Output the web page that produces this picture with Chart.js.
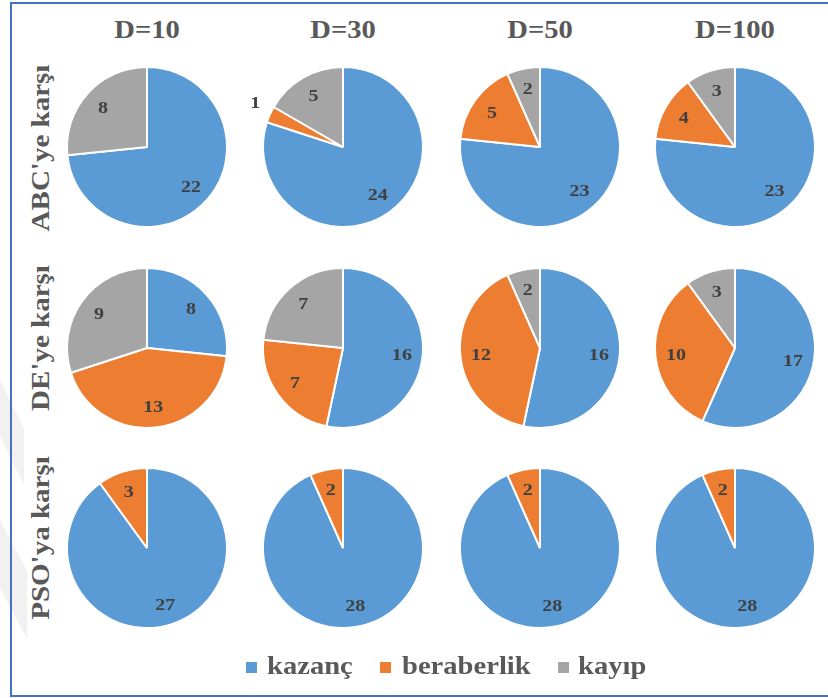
<!DOCTYPE html>
<html>
<head>
<meta charset="utf-8">
<script src="https://cdn.jsdelivr.net/npm/chart.js@4/dist/chart.umd.min.js"></script>
<style>
  html, body { margin: 0; padding: 0; background: #fff; }
  body {
    width: 828px; height: 698px; position: relative; overflow: hidden;
    font-family: "Liberation Serif", "Times New Roman", serif; font-weight: bold; color: #595959;
  }
  .band { position: absolute; left: 0; width: 60px; background: #f1f1f1; }
  .band.b1 { top: 380px; height: 140px; clip-path: polygon(0 0, 40% 35%, 40% 75%, 0 40%); }
  .band.b2 { top: 520px; height: 170px; clip-path: polygon(0 0, 45% 30%, 45% 70%, 0 40%); }
  .frame {
    position: absolute; left: 10px; top: 2px; width: 840px; height: 695px;
    border: 2px solid #4472C4; box-sizing: border-box;
  }
  .title {
    position: absolute; font-size: 26px; line-height: 26px; white-space: nowrap;
    transform: translateX(-50%) scaleX(1.1); transform-origin: center;
  }
  .rowlabel {
    position: absolute; font-size: 25px; line-height: 25px; white-space: nowrap;
    transform: translate(-50%, -50%) rotate(-90deg) scaleX(1.16); transform-origin: center;
  }
  .pie { position: absolute; width: 240px; height: 240px; }
  .legend-item { position: absolute; top: 653px; height: 26px; }
  .legend-item .box { position: absolute; top: 9px; width: 11px; height: 11px; }
  .legend-item .txt {
    position: absolute; font-size: 26px; line-height: 26px; white-space: nowrap;
    transform: scaleX(1.1); transform-origin: left center;
  }
</style>
</head>
<body>
<div class="band b1"></div>
<div class="band b2"></div>
<div class="frame"></div>
<div id="stage"></div>
<script>
// Problem dimensions (columns) and opponents (rows)
const dimensions = ['D=10', 'D=30', 'D=50', 'D=100'];
const opponents = ["ABC'ye karşı", "DE'ye karşı", "PSO'ya karşı"];
const outcomes = ['kazanç', 'beraberlik', 'kayıp'];

// Counts per opponent row, one value per dimension
const kazanc     = [[22, 24, 23, 23], [8, 16, 16, 17], [27, 28, 28, 28]];
const beraberlik = [[0, 1, 5, 4],     [13, 7, 12, 10], [3, 2, 2, 2]];
const kayip      = [[8, 5, 2, 3],     [9, 7, 2, 3],    [0, 0, 0, 0]];

const colors = ['#5B9BD5', '#ED7D31', '#A5A5A5'];

// Grid geometry
const colX = [147, 343, 540, 735];
const rowY = [147, 348, 548];
const rowLabelY = [148, 338, 538];
const pieRadius = 80;
const canvasSize = 240;

const stage = document.getElementById('stage');

// Column titles
dimensions.forEach((d, c) => {
  const el = document.createElement('div');
  el.className = 'title';
  el.textContent = d;
  el.style.left = colX[c] + 'px';
  el.style.top = '17px';
  stage.appendChild(el);
});

// Row titles (vertical)
opponents.forEach((o, r) => {
  const el = document.createElement('div');
  el.className = 'rowlabel';
  el.textContent = o;
  el.style.left = '40px';
  el.style.top = rowLabelY[r] + 'px';
  stage.appendChild(el);
});

// Value labels on each slice; thin slices get their label just outside the pie
const sliceLabels = {
  id: 'sliceLabels',
  afterDatasetsDraw(chart) {
    const ctx = chart.ctx;
    const meta = chart.getDatasetMeta(0);
    const data = chart.data.datasets[0].data;
    const total = data.reduce((a, b) => a + b, 0);
    meta.data.forEach((arc, i) => {
      const v = data[i];
      if (!v) return;
      const p = arc.getProps(['x', 'y', 'startAngle', 'endAngle', 'outerRadius'], true);
      const mid = (p.startAngle + p.endAngle) / 2;
      const outside = v / total < 0.05;
      const r = outside ? p.outerRadius + 16 : p.outerRadius * 0.74;
      const px = p.x + Math.cos(mid) * r;
      const py = p.y + Math.sin(mid) * r - (outside ? 5 : 0);
      ctx.save();
      ctx.translate(px, py);
      ctx.scale(1.18, 1);
      ctx.font = 'bold 17px "Liberation Serif", "Times New Roman", serif';
      ctx.fillStyle = '#404040';
      ctx.textAlign = 'center';
      ctx.textBaseline = 'middle';
      ctx.fillText(String(v), 0, 1);
      ctx.restore();
    });
  }
};

for (let r = 0; r < opponents.length; r++) {
  for (let c = 0; c < dimensions.length; c++) {
    const cv = document.createElement('canvas');
    cv.className = 'pie';
    cv.width = canvasSize;
    cv.height = canvasSize;
    cv.style.left = (colX[c] - canvasSize / 2) + 'px';
    cv.style.top = (rowY[r] - canvasSize / 2) + 'px';
    stage.appendChild(cv);
    new Chart(cv, {
      type: 'pie',
      data: {
        labels: outcomes,
        datasets: [{
          data: [kazanc[r][c], beraberlik[r][c], kayip[r][c]],
          backgroundColor: colors,
          borderColor: '#ffffff',
          borderWidth: 2
        }]
      },
      options: {
        responsive: false,
        animation: false,
        radius: pieRadius,
        layout: { padding: 0 },
        plugins: { legend: { display: false }, tooltip: { enabled: false } }
      },
      plugins: [sliceLabels]
    });
  }
}

// Legend
const legendX = [[246, 267], [380, 402], [558, 578]];
outcomes.forEach((name, i) => {
  const item = document.createElement('div');
  item.className = 'legend-item';
  item.style.left = '0px';
  const box = document.createElement('div');
  box.className = 'box';
  box.style.left = legendX[i][0] + 'px';
  box.style.background = colors[i];
  const txt = document.createElement('div');
  txt.className = 'txt';
  txt.style.left = legendX[i][1] + 'px';
  txt.textContent = name;
  item.appendChild(box);
  item.appendChild(txt);
  stage.appendChild(item);
});
</script>
</body>
</html>
